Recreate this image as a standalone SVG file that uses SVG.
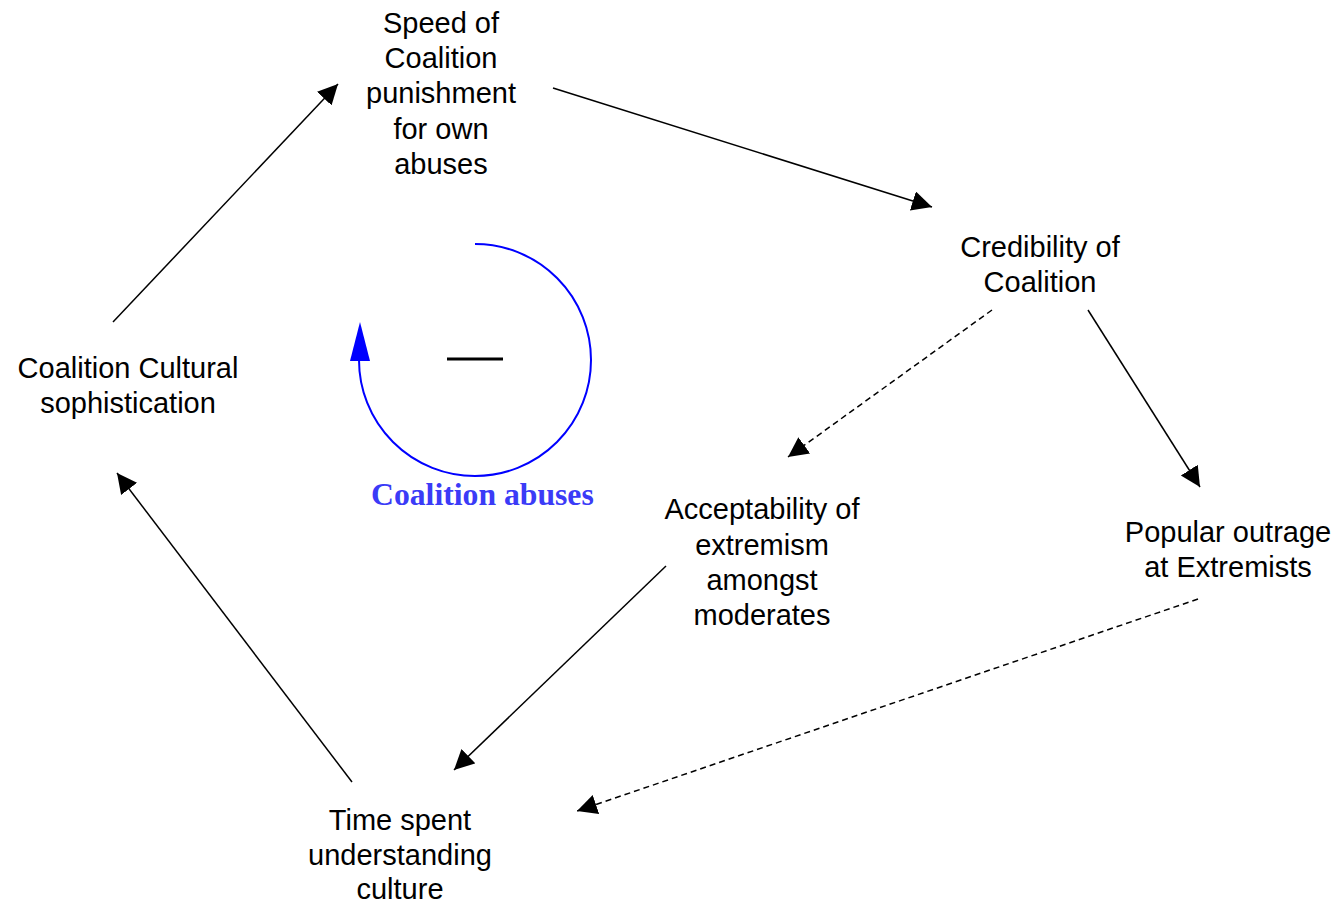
<svg xmlns="http://www.w3.org/2000/svg" width="1341" height="904" viewBox="0 0 1341 904">
  <style>
    .lbl { font-family: "Liberation Sans", Arial, sans-serif; font-size: 29px; fill: #000; text-anchor: middle; }
    .link { stroke: #000; stroke-width: 1.5; fill: none; marker-end: url(#head); }
    .dash { stroke-dasharray: 6 4; }
    .loop { font-family: "Liberation Serif", "Times New Roman", serif; font-size: 31.7px; font-weight: bold; fill: #3b3bf7; }
  </style>
  <defs>
    <marker id="head" markerUnits="userSpaceOnUse" markerWidth="22" markerHeight="22" refX="20" refY="10" orient="auto">
      <path d="M0,0 L20,10 L0,20 Z" fill="#000"/>
    </marker>
  </defs>
  <rect width="1341" height="904" fill="#fff"/>

  <!-- causal links -->
  <g id="connectors">
    <line class="link" x1="113" y1="322" x2="338" y2="84"/>
    <line class="link" x1="553" y1="88" x2="932" y2="207"/>
    <line class="link dash" x1="992" y1="310" x2="788" y2="457"/>
    <line class="link" x1="1088" y1="310" x2="1200" y2="487"/>
    <line class="link" x1="666" y1="566" x2="454" y2="770"/>
    <line class="link dash" x1="1198" y1="599" x2="577" y2="811"/>
    <line class="link" x1="352" y1="782" x2="117" y2="473"/>
  </g>

  <!-- balancing loop marker -->
  <g id="loop">
    <path d="M475,244 A116,116 0 1 1 359,360" fill="none" stroke="#0000ff" stroke-width="2"/>
    <path d="M360,322 L370,361 L350,361 Z" fill="#0000ff"/>
    <line x1="447" y1="359" x2="503" y2="359" stroke="#000" stroke-width="3.2"/>
    <text class="loop" x="371" y="505">Coalition abuses</text>
  </g>

  <g id="speed">
    <text class="lbl" x="441" y="33">Speed of</text>
    <text class="lbl" x="441" y="68">Coalition</text>
    <text class="lbl" x="441" y="103">punishment</text>
    <text class="lbl" x="441" y="139">for own</text>
    <text class="lbl" x="441" y="174">abuses</text>
  </g>
  <g id="credibility">
    <text class="lbl" x="1040" y="257">Credibility of</text>
    <text class="lbl" x="1040" y="292">Coalition</text>
  </g>
  <g id="sophistication">
    <text class="lbl" x="128" y="378">Coalition Cultural</text>
    <text class="lbl" x="128" y="413">sophistication</text>
  </g>
  <g id="acceptability">
    <text class="lbl" x="762" y="519">Acceptability of</text>
    <text class="lbl" x="762" y="555">extremism</text>
    <text class="lbl" x="762" y="590">amongst</text>
    <text class="lbl" x="762" y="625">moderates</text>
  </g>
  <g id="outrage">
    <text class="lbl" x="1228" y="542">Popular outrage</text>
    <text class="lbl" x="1228" y="577">at Extremists</text>
  </g>
  <g id="time">
    <text class="lbl" x="400" y="830">Time spent</text>
    <text class="lbl" x="400" y="865">understanding</text>
    <text class="lbl" x="400" y="899">culture</text>
  </g>
</svg>
